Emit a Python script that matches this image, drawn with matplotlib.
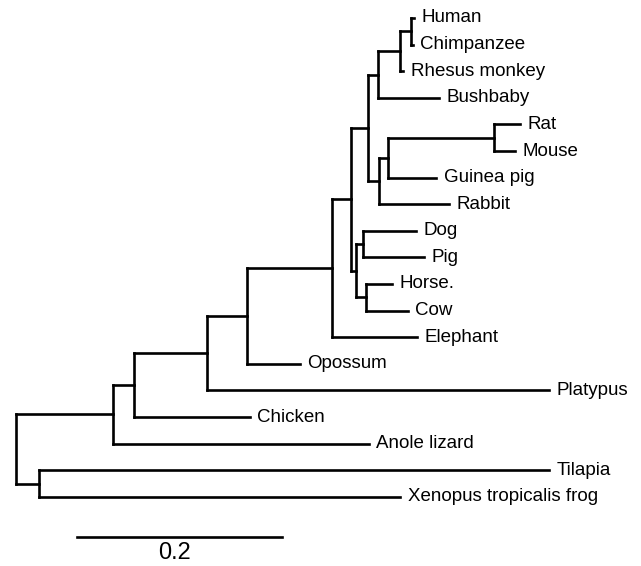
import matplotlib.pyplot as plt

# 系统发育树：节点名、父节点、枝长
node_names = ['root', 'n1', 'Tilapia', 'Xenopus tropicalis frog', 'n2', 'Anole lizard',
              'n3', 'Chicken', 'n4', 'Platypus', 'n5', 'Opossum', 'n6', 'Elephant',
              'n7', 'n8', 'n9', 'Bushbaby', 'n10', 'Rhesus monkey', 'n11', 'Human',
              'Chimpanzee', 'n12', 'Rabbit', 'n13', 'Guinea pig', 'n14', 'Rat', 'Mouse',
              'n15', 'n16', 'Dog', 'Pig', 'n17', 'Horse.', 'Cow']
node_parent = [None, 'root', 'n1', 'n1', 'root', 'n2',
               'n2', 'n3', 'n3', 'n4', 'n4', 'n5', 'n5', 'n6',
               'n6', 'n7', 'n8', 'n9', 'n9', 'n10', 'n10', 'n11',
               'n11', 'n8', 'n12', 'n12', 'n13', 'n13', 'n14', 'n14',
               'n7', 'n15', 'n16', 'n16', 'n15', 'n17', 'n17']
branch_len = [0.0, 0.022, 0.498, 0.353, 0.095, 0.249,
              0.020, 0.113, 0.071, 0.334, 0.039, 0.052, 0.083, 0.083,
              0.019, 0.016, 0.010, 0.060, 0.022, 0.003, 0.010, 0.003,
              0.002, 0.011, 0.068, 0.009, 0.047, 0.103, 0.026, 0.021,
              0.005, 0.007, 0.051, 0.059, 0.009, 0.026, 0.041]

# 叶子从上到下的顺序
tip_order = ['Human', 'Chimpanzee', 'Rhesus monkey', 'Bushbaby', 'Rat', 'Mouse',
             'Guinea pig', 'Rabbit', 'Dog', 'Pig', 'Horse.', 'Cow', 'Elephant',
             'Opossum', 'Platypus', 'Chicken', 'Anole lizard', 'Tilapia',
             'Xenopus tropicalis frog']

scale_len = 0.2
scale_label = '0.2'

parent = dict(zip(node_names, node_parent))
blen = dict(zip(node_names, branch_len))
children = {n: [] for n in node_names}
for n in node_names:
    if parent[n] is not None:
        children[parent[n]].append(n)

# x: 到根的距离
xpos = {}
for n in node_names:
    p = parent[n]
    xpos[n] = 0.0 if p is None else xpos[p] + blen[n]

# y: 叶子按顺序，内部节点取子节点中点
ypos = {t: i for i, t in enumerate(tip_order)}
def get_y(n):
    if n in ypos:
        return ypos[n]
    ys = [get_y(c) for c in children[n]]
    ypos[n] = (min(ys) + max(ys)) / 2
    return ypos[n]
get_y('root')

fig = plt.figure(figsize=(6.41, 5.66), dpi=100)
ax = fig.add_axes([0, 0, 1, 1])
lw = 1.9

for n in node_names:
    if children[n]:
        ys = [ypos[c] for c in children[n]]
        ax.plot([xpos[n], xpos[n]], [min(ys), max(ys)], color='black', lw=lw,
                solid_capstyle='projecting')
    if parent[n] is not None:
        ax.plot([xpos[parent[n]], xpos[n]], [ypos[n], ypos[n]], color='black', lw=lw,
                solid_capstyle='projecting')

for t in tip_order:
    ax.annotate(t, (xpos[t], ypos[t]), xytext=(5.5, 0), textcoords='offset points',
                va='center', ha='left', fontsize=13.5, family='Liberation Sans')

# 比例尺
sx = 0.0595
sy = 19.5
ax.plot([sx, sx + scale_len], [sy, sy], color='black', lw=lw)
ax.text(sx + scale_len / 2 - 0.005, sy + 0.6, scale_label, ha='center', va='center',
        fontsize=17, family='Liberation Sans')

ax.set_xlim(-16 / 1025, (641 - 16) / 1025)
ax.set_ylim((566 - 18) / 26.6, -18 / 26.6)
ax.axis('off')

fig.savefig('out.png', dpi=100)
